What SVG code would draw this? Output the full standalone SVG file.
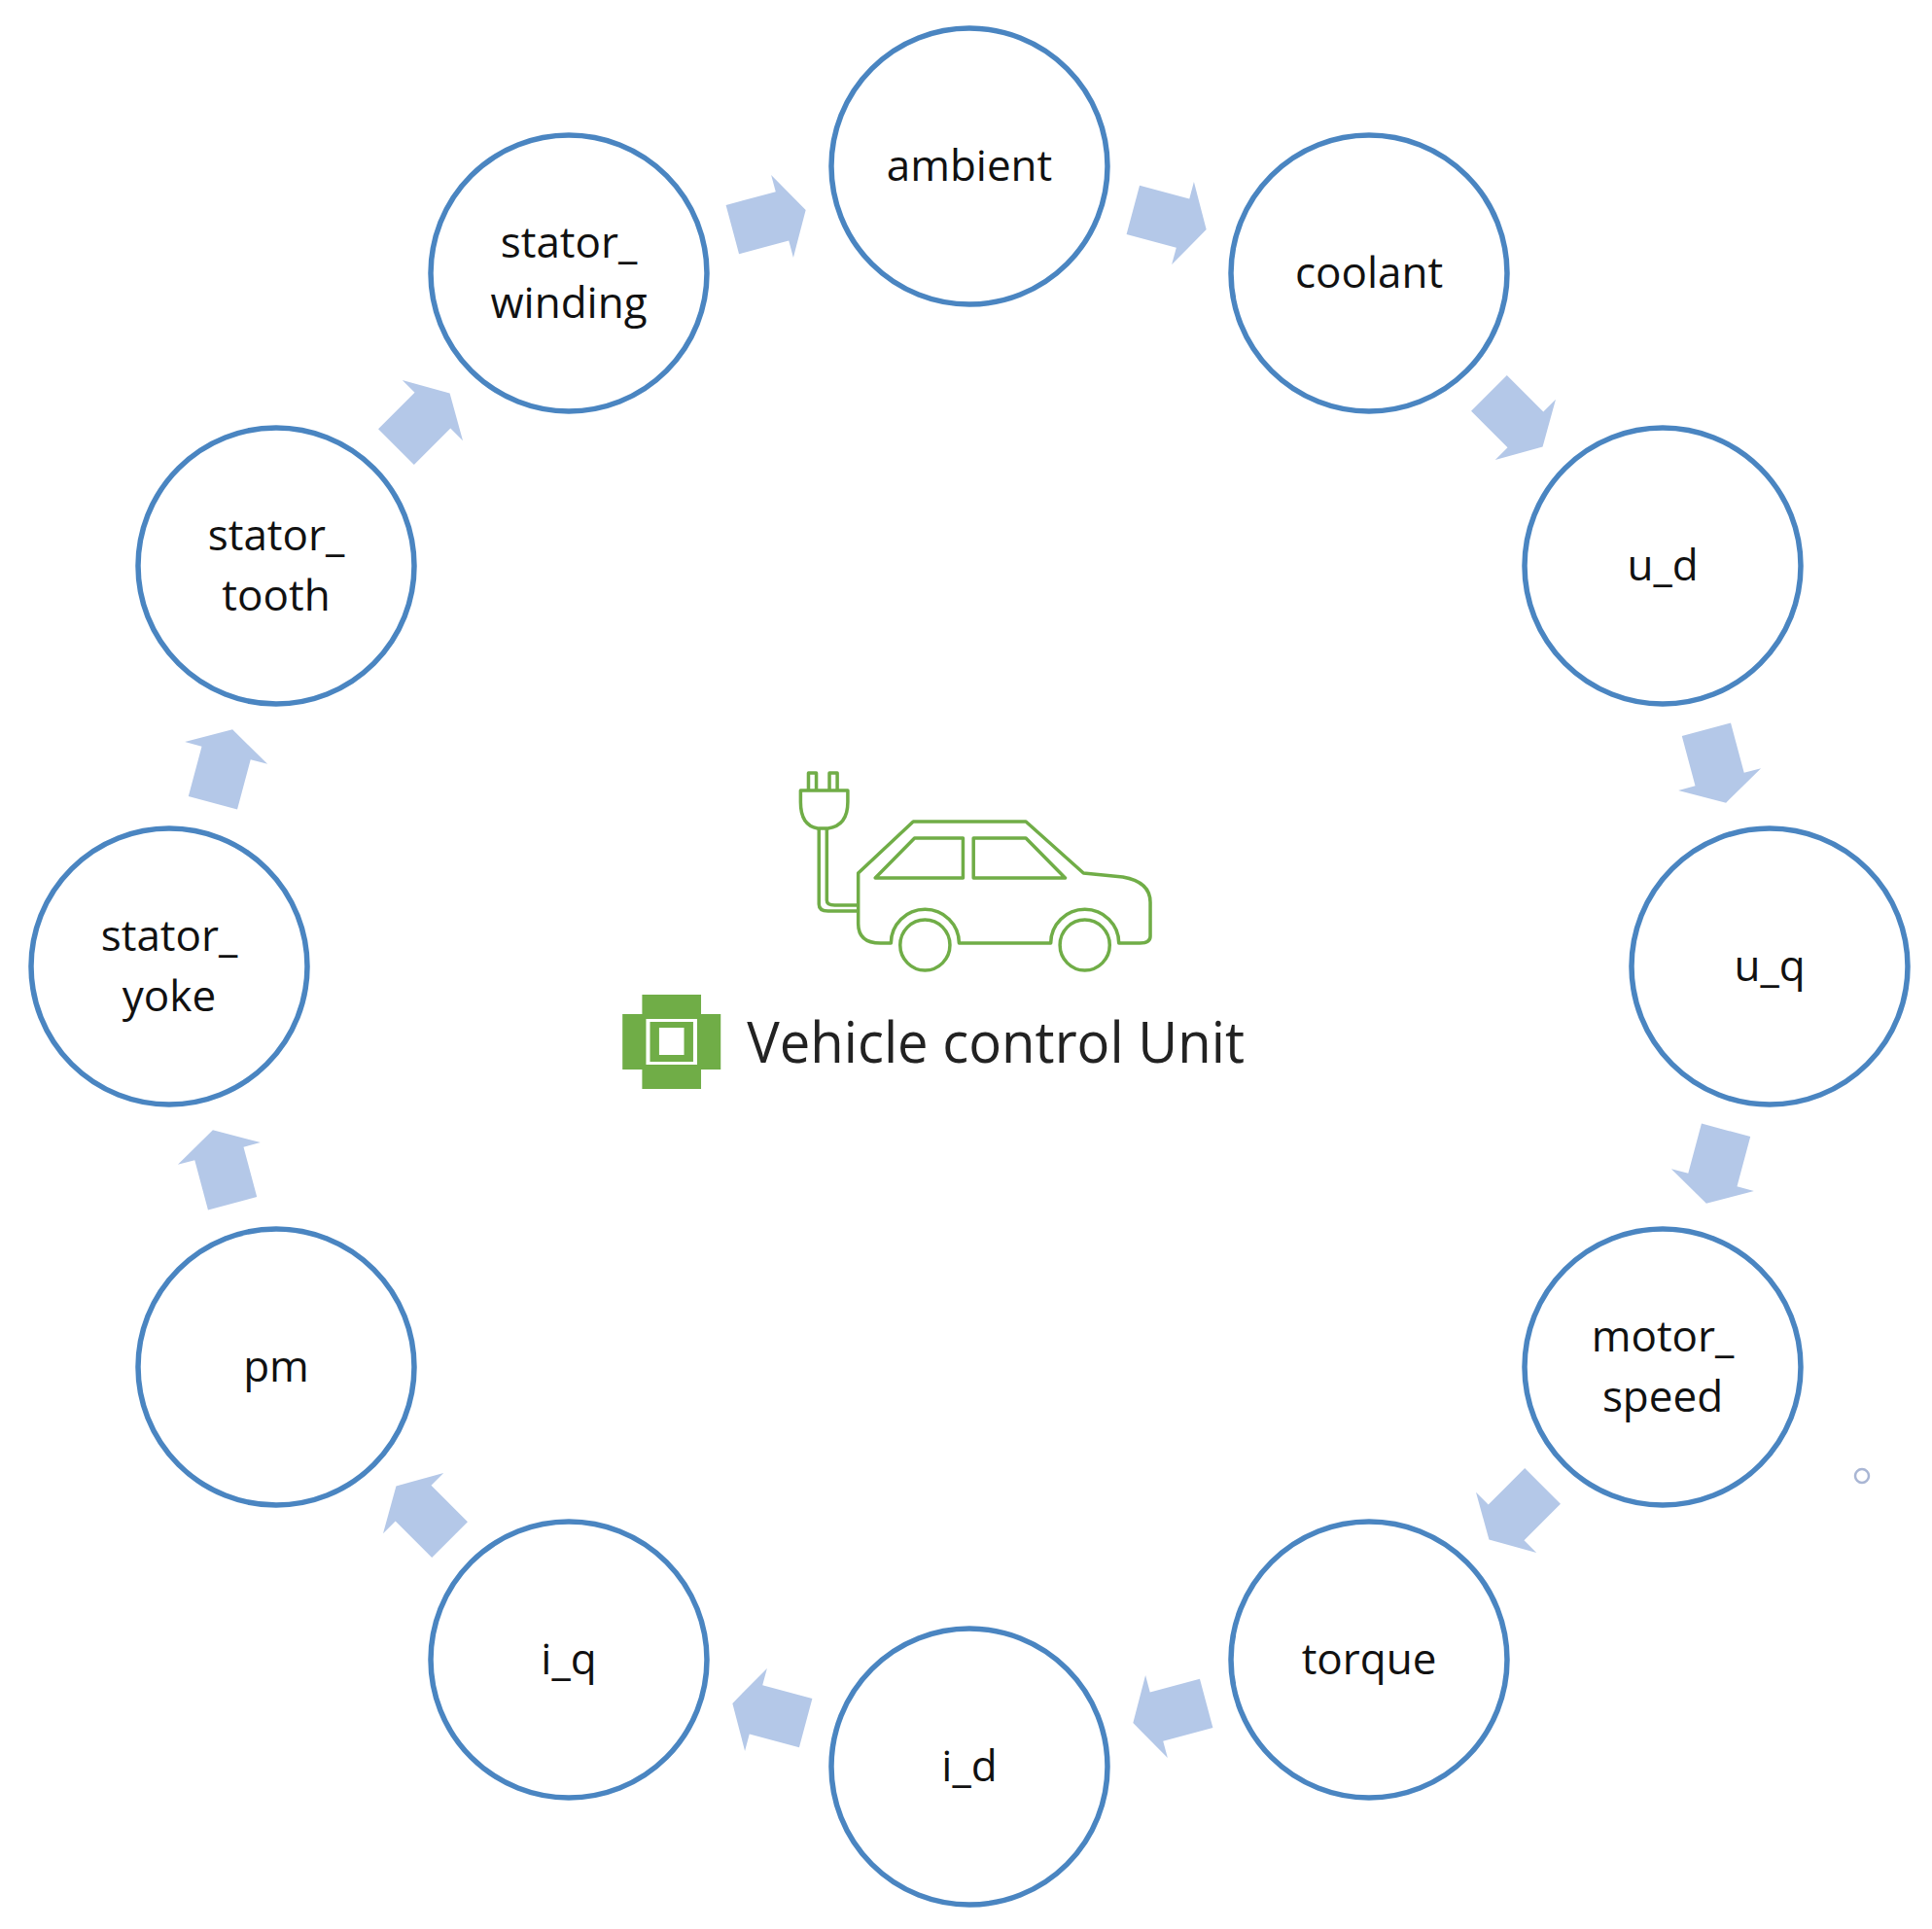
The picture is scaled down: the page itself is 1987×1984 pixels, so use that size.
<svg xmlns="http://www.w3.org/2000/svg" xmlns:xlink="http://www.w3.org/1999/xlink" width="1987" height="1984" viewBox="0 0 1987 1984">
<style>
.n{fill:#fff;stroke:#4a85c1;stroke-width:5.5}
.t{font-family:"Open Sans",sans-serif;font-size:44px;fill:#111;text-anchor:middle}
.a{fill:#b4c8e8}
.g{fill:none;stroke:#70ad47;stroke-width:3.5;stroke-linejoin:round;vector-effect:non-scaling-stroke}
</style>
<defs>
<path id="arr" d="M-39,-26 L14,-26 L14,-44 L39,0 L14,44 L14,26 L-39,26 Z"/>
</defs>
<rect width="1987" height="1984" fill="#fff"/>
<g id="connectors">
<use href="#arr" class="a" transform="translate(1203,226) rotate(15)"/>
<use href="#arr" class="a" transform="translate(1559,432) rotate(45)"/>
<use href="#arr" class="a" transform="translate(1765,788) rotate(75)"/>
<use href="#arr" class="a" transform="translate(1765,1200) rotate(105)"/>
<use href="#arr" class="a" transform="translate(1559,1556) rotate(135)"/>
<use href="#arr" class="a" transform="translate(1203,1762) rotate(165)"/>
<use href="#arr" class="a" transform="translate(791,1762) rotate(195)"/>
<use href="#arr" class="a" transform="translate(435,1556) rotate(225)"/>
<use href="#arr" class="a" transform="translate(229,1200) rotate(255)"/>
<use href="#arr" class="a" transform="translate(229,788) rotate(285)"/>
<use href="#arr" class="a" transform="translate(435,432) rotate(315)"/>
<use href="#arr" class="a" transform="translate(791,226) rotate(345)"/>
</g>
<g id="ambient"><circle class="n" cx="997" cy="171" r="142"/><text class="t" x="997" y="186">ambient</text></g>
<g id="coolant"><circle class="n" cx="1408" cy="281" r="142"/><text class="t" x="1408" y="296">coolant</text></g>
<g id="u_d"><circle class="n" cx="1710" cy="582" r="142"/><text class="t" x="1710" y="597">u_d</text></g>
<g id="u_q"><circle class="n" cx="1820" cy="994" r="142"/><text class="t" x="1820" y="1009">u_q</text></g>
<g id="motor_speed"><circle class="n" cx="1710" cy="1406" r="142"/><text class="t" x="1710" y="1390">motor_</text><text class="t" x="1710" y="1452">speed</text></g>
<g id="torque"><circle class="n" cx="1408" cy="1707" r="142"/><text class="t" x="1408" y="1722">torque</text></g>
<g id="i_d"><circle class="n" cx="997" cy="1817" r="142"/><text class="t" x="997" y="1832">i_d</text></g>
<g id="i_q"><circle class="n" cx="585" cy="1707" r="142"/><text class="t" x="585" y="1722">i_q</text></g>
<g id="pm"><circle class="n" cx="284" cy="1406" r="142"/><text class="t" x="284" y="1421">pm</text></g>
<g id="stator_yoke"><circle class="n" cx="174" cy="994" r="142"/><text class="t" x="174" y="978">stator_</text><text class="t" x="174" y="1040">yoke</text></g>
<g id="stator_tooth"><circle class="n" cx="284" cy="582" r="142"/><text class="t" x="284" y="566">stator_</text><text class="t" x="284" y="628">tooth</text></g>
<g id="stator_winding"><circle class="n" cx="585" cy="281" r="142"/><text class="t" x="585" y="265">stator_</text><text class="t" x="585" y="327">winding</text></g>
<g id="vcu" transform="translate(620,0) scale(1.347,1) translate(-620,0)">
<g id="car">
<path class="g" d="M777,813 V795 h6 V813 M793,813 V795 h6 V813 M771,813 h36 v12 q0,24 -15,27 h-8 q-13,-3 -13,-27 Z"/>
<path class="g" d="M785,852 V930 q0,7 7,7 H815 M791,852 V926 q0,5 6,5 H815"/>
<path class="g" d="M815,898 L857,845 H943 L987,898 L1017,902 Q1038,907 1038,928 V963 Q1038,970 1030,970 H1014 A24,32 0 0 0 962,970 H892 A24,32 0 0 0 840,970 H832 Q815,970 815,950 Z"/>
<ellipse class="g" cx="866" cy="972" rx="19" ry="26"/>
<ellipse class="g" cx="988" cy="972" rx="19" ry="26"/>
<path class="g" d="M828,903 L858,862 H895 V903 Z M903,862 H943 L973,903 H903 Z"/>
</g>
<g id="chip" fill="#70ad47">
<rect x="650" y="1023" width="45" height="97"/>
<rect x="635" y="1043" width="75" height="57"/>
<rect x="653" y="1048" width="39" height="47" fill="#fff"/>
<rect x="656" y="1051" width="33" height="41" fill="#70ad47"/>
<rect x="663" y="1057" width="19" height="28" fill="#fff"/>
</g>
<text x="730" y="1093" font-family="'Open Sans',sans-serif" font-size="58" fill="#222" textLength="380" lengthAdjust="spacingAndGlyphs">Vehicle control Unit</text>
</g>
<circle cx="1915" cy="1518" r="7" fill="none" stroke="#a9b6d4" stroke-width="2.5"/>
</svg>
